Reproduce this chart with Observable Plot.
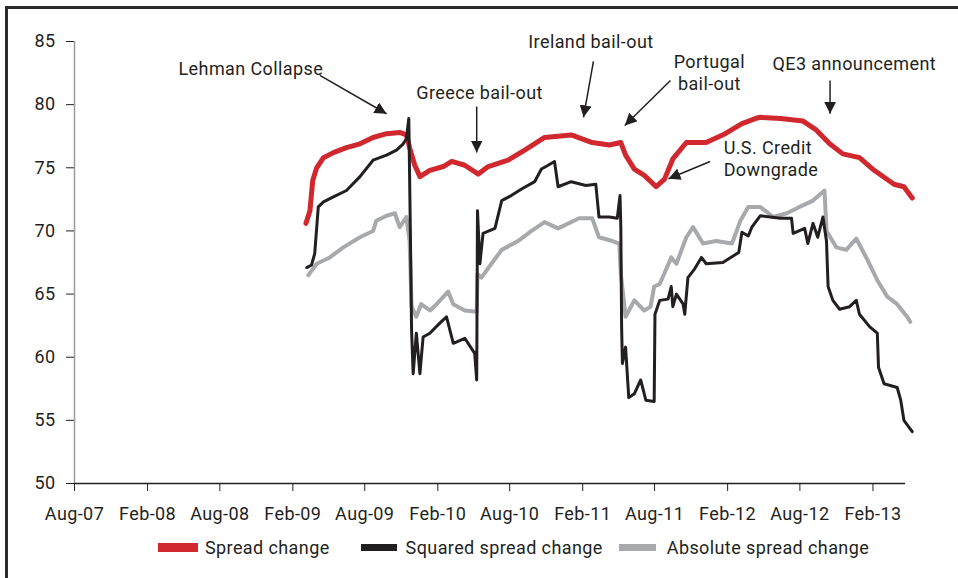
<!DOCTYPE html>
<html>
<head>
<meta charset="utf-8">
<script src="https://cdn.jsdelivr.net/npm/d3@7"></script>
<script src="https://cdn.jsdelivr.net/npm/@observablehq/plot@0.6"></script>
<style>
  html, body { margin: 0; padding: 0; background: #fff; overflow: hidden; }
  body { width: 958px; height: 578px; position: relative; font-family: Roboto, "Noto Sans", sans-serif; color: #231f20; }
  #frame { position: absolute; left: 5px; top: 6px; width: 1200px; height: 1200px; border-left: 3px solid #2b2b2b; border-top: 3px solid #2b2b2b; box-sizing: border-box; }
  #chart { position: absolute; left: 0; top: 0; }
  #legend { position: absolute; top: 537px; left: 0; height: 20px; display: flex; align-items: center; font-size: 18px; letter-spacing: 0.4px; white-space: nowrap; }
  .sw { display: inline-block; flex: none; }
</style>
</head>
<body>
<div id="frame"></div>
<div id="chart"></div>
<div id="legend"></div>
<script>
// ---------- data ----------
const seriesNames = ["Spread change", "Squared spread change", "Absolute spread change"];
const seriesColors = ["#d0282e", "#231f20", "#a7a9ac"];

const spreadChange = [
  ["2009-03-06",70.6],["2009-03-16",71.6],["2009-03-23",74.0],["2009-04-02",75.0],["2009-04-19",75.8],
  ["2009-05-14",76.2],["2009-06-16",76.6],["2009-07-20",76.9],["2009-08-22",77.4],["2009-09-25",77.7],
  ["2009-10-28",77.8],["2009-11-14",77.6],["2009-11-22",76.6],["2009-12-05",75.2],["2009-12-18",74.3],
  ["2010-01-12",74.8],["2010-02-15",75.1],["2010-03-08",75.5],["2010-04-10",75.2],["2010-05-14",74.5],
  ["2010-06-08",75.1],["2010-07-28",75.6],["2010-09-08",76.4],["2010-10-28",77.4],["2011-01-03",77.6],
  ["2011-02-25",77.0],["2011-04-09",76.8],["2011-05-08",77.0],["2011-05-20",76.0],["2011-06-11",74.9],
  ["2011-07-06",74.4],["2011-08-05",73.5],["2011-08-26",74.1],["2011-09-16",75.7],["2011-10-20",77.0],
  ["2011-12-09",77.0],["2012-01-26",77.7],["2012-03-08",78.5],["2012-04-11",78.9],["2012-04-23",79.0],
  ["2012-06-13",78.9],["2012-08-09",78.7],["2012-09-11",78.0],["2012-10-15",76.9],["2012-11-17",76.1],
  ["2012-12-29",75.8],["2013-02-04",74.8],["2013-03-26",73.7],["2013-04-20",73.5],["2013-05-11",72.6]
];

const squaredSpreadChange = [
  ["2009-03-08",67.1],["2009-03-20",67.3],["2009-03-28",68.2],["2009-04-06",71.9],["2009-04-19",72.3],
  ["2009-05-14",72.7],["2009-06-16",73.2],["2009-07-20",74.3],["2009-08-22",75.6],["2009-09-25",76.0],
  ["2009-10-20",76.4],["2009-11-06",76.9],["2009-11-14",77.3],["2009-11-20",78.9],["2009-11-24",69.8],
  ["2009-11-27",62.1],["2009-12-01",58.7],["2009-12-09",61.9],["2009-12-18",58.7],["2009-12-26",61.6],
  ["2010-01-12",61.9],["2010-02-06",62.7],["2010-02-23",63.2],["2010-03-12",61.1],["2010-04-10",61.5],
  ["2010-05-05",60.3],["2010-05-10",58.2],["2010-05-12",71.6],["2010-05-18",67.4],["2010-05-26",69.8],
  ["2010-06-25",70.2],["2010-07-12",72.4],["2010-08-05",72.8],["2010-08-30",73.3],["2010-10-03",73.9],
  ["2010-10-20",74.9],["2010-11-06",75.2],["2010-11-22",75.5],["2010-12-01",73.5],["2011-01-03",73.9],
  ["2011-02-09",73.6],["2011-03-06",73.7],["2011-03-14",71.1],["2011-04-09",71.1],["2011-04-29",71.0],
  ["2011-05-06",72.8],["2011-05-08",70.3],["2011-05-10",62.4],["2011-05-12",59.5],["2011-05-20",60.8],
  ["2011-05-28",56.8],["2011-06-11",57.1],["2011-06-27",58.2],["2011-07-10",56.6],["2011-07-31",56.5],
  ["2011-08-02",63.4],["2011-08-14",64.5],["2011-09-04",64.6],["2011-09-12",65.6],["2011-09-16",64.0],
  ["2011-09-25",65.0],["2011-10-12",64.2],["2011-10-16",63.4],["2011-10-24",66.3],["2011-11-10",67.0],
  ["2011-11-27",67.9],["2011-12-09",67.4],["2012-01-20",67.5],["2012-02-29",68.3],["2012-03-08",69.9],
  ["2012-03-24",69.6],["2012-04-02",70.3],["2012-04-23",71.2],["2012-06-13",71.0],["2012-07-11",71.0],
  ["2012-07-15",69.8],["2012-08-13",70.2],["2012-08-21",69.0],["2012-09-03",70.6],["2012-09-15",69.5],
  ["2012-09-28",71.1],["2012-10-07",69.2],["2012-10-11",65.6],["2012-10-23",64.5],["2012-11-09",63.8],
  ["2012-12-04",64.0],["2012-12-21",64.5],["2012-12-29",63.4],["2013-01-24",62.4],["2013-02-12",61.9],
  ["2013-02-15",59.2],["2013-03-01",57.9],["2013-04-03",57.6],["2013-04-12",56.6],["2013-04-20",55.0],
  ["2013-05-11",54.1]
];

const absoluteSpreadChange = [
  ["2009-03-12",66.5],["2009-04-02",67.4],["2009-05-05",67.9],["2009-06-08",68.7],["2009-07-20",69.5],
  ["2009-08-22",70.0],["2009-08-30",70.8],["2009-09-25",71.2],["2009-10-16",71.4],["2009-10-28",70.3],
  ["2009-11-14",71.1],["2009-11-22",69.2],["2009-11-27",64.0],["2009-12-09",63.2],["2009-12-21",64.2],
  ["2010-01-12",63.7],["2010-01-29",64.2],["2010-02-27",65.2],["2010-03-12",64.2],["2010-04-10",63.7],
  ["2010-05-10",63.6],["2010-05-12",66.6],["2010-05-22",66.3],["2010-06-16",67.4],["2010-07-12",68.5],
  ["2010-08-22",69.2],["2010-09-25",70.0],["2010-10-28",70.7],["2010-12-01",70.2],["2011-01-23",71.0],
  ["2011-02-25",71.0],["2011-03-14",69.5],["2011-04-17",69.2],["2011-05-04",69.0],["2011-05-08",66.6],
  ["2011-05-20",63.2],["2011-06-11",64.5],["2011-07-06",63.7],["2011-07-22",64.0],["2011-07-31",65.6],
  ["2011-08-14",65.8],["2011-09-12",67.9],["2011-09-25",67.4],["2011-10-20",69.5],["2011-11-06",70.3],
  ["2011-12-01",69.0],["2012-01-03",69.2],["2012-02-12",69.0],["2012-03-04",70.8],["2012-03-24",71.9],
  ["2012-04-23",71.9],["2012-05-26",71.1],["2012-06-29",71.4],["2012-07-31",71.9],["2012-09-03",72.4],
  ["2012-10-02",73.2],["2012-10-07",70.0],["2012-11-01",68.7],["2012-11-26",68.5],["2012-12-21",69.4],
  ["2013-01-15",67.9],["2013-02-12",66.1],["2013-03-09",64.8],["2013-04-03",64.2],["2013-04-28",63.2],
  ["2013-05-06",62.8]
];

const xTickLabels = ["Aug-07","Feb-08","Aug-08","Feb-09","Aug-09","Feb-10","Aug-10","Feb-11","Aug-11","Feb-12","Aug-12","Feb-13"];
const xDomain = ["2007-08-01", "2013-04-24"];
const yTicks = [50, 55, 60, 65, 70, 75, 80, 85];

const noteLabels = ["Lehman Collapse", "Greece bail-out", "Ireland bail-out", "Portugal\nbail-out", "QE3 announcement", "U.S. Credit\nDowngrade"];
const noteTextDate = ["2008-04-19", "2009-12-09", "2010-09-17", "2011-12-17", "2012-05-24", "2012-01-22"];
const noteTextValue = [82.9, 81.0, 85.05, 82.58, 83.3, 75.75];
const noteAlign = ["start", "start", "start", "middle", "start", "start"];
const arrowFromDate = ["2009-04-10", "2010-05-10", "2011-02-28", "2011-09-10", "2012-10-16", "2011-12-19"];
const arrowFromValue = [82.31, 79.85, 83.42, 81.91, 81.91, 75.5];
const arrowToDate = ["2009-09-25", "2010-05-10", "2011-02-03", "2011-05-18", "2012-10-16", "2011-09-05"];
const arrowToValue = [79.28, 76.21, 79.0, 78.35, 79.28, 74.13];

// ---------- build tables ----------
const parse = d3.utcParse("%Y-%m-%d");
const toRows = (arr) => arr.map(([d, v]) => ({date: parse(d), value: v}));
const series = [spreadChange, squaredSpreadChange, absoluteSpreadChange].map(toRows);
const tickDates = xTickLabels.map(s => d3.utcParse("%b-%y")(s));
const notes = noteLabels.map((label, i) => ({
  label, align: noteAlign[i],
  tx: parse(noteTextDate[i]), ty: noteTextValue[i],
  x1: parse(arrowFromDate[i]), y1: arrowFromValue[i],
  x2: parse(arrowToDate[i]), y2: arrowToValue[i]
}));

function filledArrow(color, context) {
  const doc = (context && context.document) || document;
  const ns = "http://www.w3.org/2000/svg";
  const m = doc.createElementNS(ns, "marker");
  m.setAttribute("viewBox", "-12 -6 13 12");
  m.setAttribute("markerWidth", 13);
  m.setAttribute("markerHeight", 12);
  m.setAttribute("markerUnits", "userSpaceOnUse");
  m.setAttribute("orient", "auto");
  m.setAttribute("refX", 0);
  m.setAttribute("refY", 0);
  const p = doc.createElementNS(ns, "path");
  p.setAttribute("d", "M-12,-6L0,0L-12,6Z");
  p.setAttribute("fill", color);
  p.setAttribute("stroke", "none");
  m.appendChild(p);
  return m;
}

const fontFam = "Roboto, 'Noto Sans', sans-serif";

const chart = Plot.plot({
  width: 958,
  height: 530,
  marginLeft: 74,
  marginRight: 53,
  marginTop: 41,
  marginBottom: 47,
  style: {fontFamily: fontFam, fontSize: "18px", color: "#231f20", background: "transparent", letterSpacing: "0.4px"},
  x: {
    type: "utc",
    domain: xDomain.map(parse),
    ticks: tickDates,
    tickFormat: d3.utcFormat("%b-%y"),
    tickSize: 8,
    tickPadding: 16,
    label: null
  },
  y: {
    domain: [yTicks[0], yTicks[yTicks.length - 1]],
    ticks: yTicks,
    tickSize: 8,
    tickPadding: 11,
    tickFormat: d => String(d),
    label: null
  },
  marks: [
    Plot.ruleX([xDomain[0]].map(parse), {stroke: "#9a9a9a", strokeWidth: 1.5}),
    Plot.ruleY([yTicks[0]], {stroke: "#231f20", strokeWidth: 1.5}),
    Plot.line(series[0], {x: "date", y: "value", stroke: seriesColors[0], strokeWidth: 5, curve: "linear"}),
    Plot.line(series[2], {x: "date", y: "value", stroke: seriesColors[2], strokeWidth: 4, curve: "linear"}),
    Plot.line(series[1], {x: "date", y: "value", stroke: seriesColors[1], strokeWidth: 3, curve: "linear"}),
    Plot.link(notes, {x1: "x1", y1: "y1", x2: "x2", y2: "y2", stroke: "#231f20", strokeWidth: 1.5, markerEnd: filledArrow}),
    Plot.text(notes, {x: "tx", y: "ty", text: "label", textAnchor: "start", filter: d => d.align === "start", fill: "#231f20", fontSize: 18, lineHeight: 1.22}),
    Plot.text(notes, {x: "tx", y: "ty", text: "label", textAnchor: "middle", filter: d => d.align === "middle", fill: "#231f20", fontSize: 18, lineHeight: 1.22})
  ]
});
document.getElementById("chart").appendChild(chart);

// ---------- legend ----------
const legend = document.getElementById("legend");
const swatchW = [40, 36, 37];
const swatchH = [9, 7, 7];
const lead = [158, 31, 16];
const gapAfterSwatch = [7, 9, 11];
seriesNames.forEach((name, i) => {
  const sw = document.createElement("span");
  sw.className = "sw";
  sw.style.width = swatchW[i] + "px";
  sw.style.height = swatchH[i] + "px";
  sw.style.background = seriesColors[i];
  sw.style.marginLeft = lead[i] + "px";
  sw.style.marginRight = gapAfterSwatch[i] + "px";
  legend.appendChild(sw);
  const t = document.createElement("span");
  t.textContent = name;
  legend.appendChild(t);
});
</script>
</body>
</html>
